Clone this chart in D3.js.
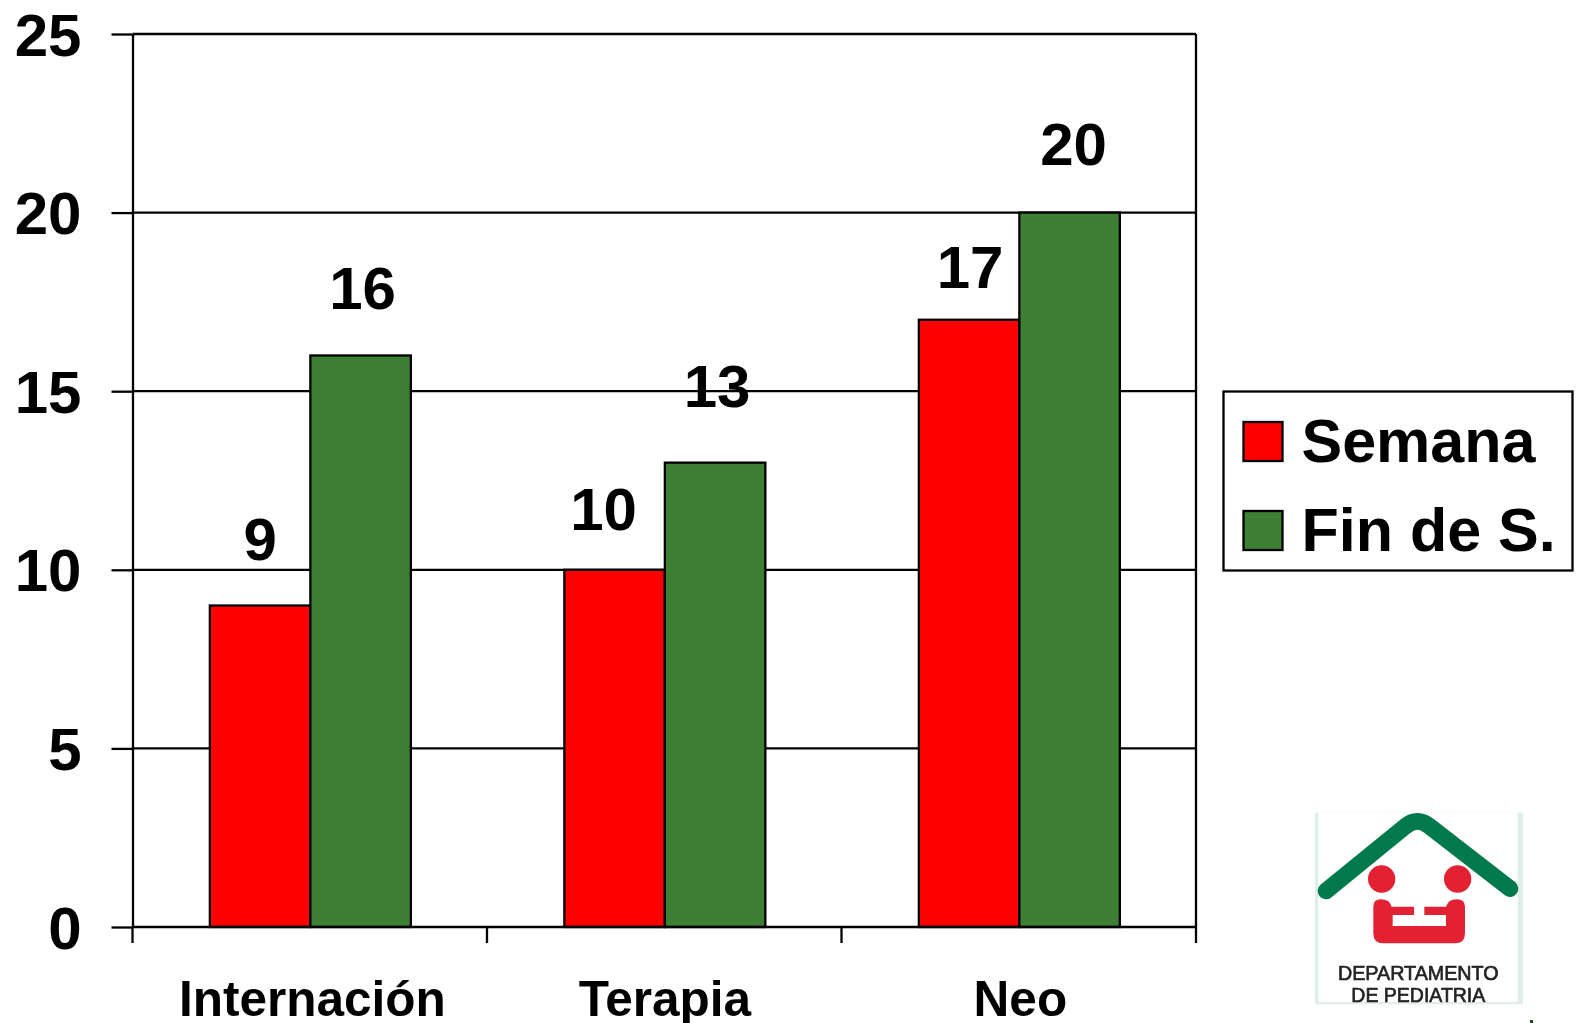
<!DOCTYPE html>
<html lang="es">
<head>
<meta charset="utf-8">
<title>Semana y fin de semana por servicio</title>
<script src="https://cdn.jsdelivr.net/npm/d3@7/dist/d3.min.js"></script>
<style>
  html, body { margin: 0; padding: 0; background: #fff; overflow: hidden; }
  svg { display: block; }
  text { font-family: "Liberation Sans", Arial, sans-serif; font-weight: 700; fill: #000; }
</style>
</head>
<body>
<svg id="chart" width="1579" height="1023"></svg>
<script>
const categories = ["Internación", "Terapia", "Neo"];
const seriesNames = ["Semana", "Fin de S."];
const semana = [9, 10, 17];
const finDeSemana = [16, 13, 20];
const seriesValues = [semana, finDeSemana];
const seriesColors = ["#ff0000", "#3d8033"];
const yTickValues = [0, 5, 10, 15, 20, 25];

// Hand placement of the value labels: [dx, dy] per series and category
const labelNudge = [
  [[0, 0], [-11, 6], [1, 14]],
  [[2, 0], [2, -10], [4, -2]]
];
// Horizontal nudge of the category labels
const categoryNudge = [2, 0, 1];

const plot = { left: 132.5, right: 1196, top: 34, bottom: 927 };
const lineWidth = 2.3;
const svg = d3.select("#chart");

const y = d3.scaleLinear().domain([0, 25]).range([plot.bottom, plot.top]);
const x = d3.scaleBand().domain(categories).range([plot.left + 0.6, plot.right + 0.6])
  .paddingInner(0.433).paddingOuter(0.2165);
const xSeries = d3.scaleBand().domain(d3.range(seriesNames.length)).range([0, x.bandwidth()]);
const catStep = x.step();

// Horizontal gridlines and the plot frame sit behind the bars
svg.append("g").selectAll("line").data(yTickValues.slice(1)).join("line")
  .attr("x1", plot.left).attr("x2", plot.right)
  .attr("y1", d => y(d)).attr("y2", d => y(d))
  .attr("stroke", "#000").attr("stroke-width", lineWidth);
svg.append("line")
  .attr("x1", plot.right).attr("x2", plot.right)
  .attr("y1", plot.top).attr("y2", plot.bottom)
  .attr("stroke", "#000").attr("stroke-width", lineWidth);

// Bars, one group per service
const groups = svg.append("g").selectAll("g").data(categories).join("g")
  .attr("transform", d => `translate(${x(d)},0)`);
groups.selectAll("rect")
  .data((d, i) => seriesValues.map((vals, s) => ({ s, v: vals[i] })))
  .join("rect")
  .attr("x", d => xSeries(d.s))
  .attr("y", d => y(d.v))
  .attr("width", xSeries.bandwidth())
  .attr("height", d => plot.bottom - y(d.v))
  .attr("fill", d => seriesColors[d.s])
  .attr("stroke", "#000").attr("stroke-width", lineWidth);

// Value labels above each bar
groups.selectAll("text")
  .data((d, i) => seriesValues.map((vals, s) => ({ s, i, v: vals[i] })))
  .join("text")
  .attr("x", d => xSeries(d.s) + xSeries.bandwidth() / 2 + labelNudge[d.s][d.i][0])
  .attr("y", d => y(d.v) - 46 + labelNudge[d.s][d.i][1])
  .attr("text-anchor", "middle")
  .attr("font-size", 60)
  .text(d => d.v);

// Value axis
const yAxis = svg.append("g")
  .attr("transform", `translate(${plot.left},0)`)
  .call(d3.axisLeft(y).tickValues(yTickValues).tickSize(21).tickSizeOuter(0).tickPadding(30));
yAxis.selectAll("path.domain").attr("stroke", "#000").attr("stroke-width", lineWidth);
yAxis.selectAll("line").attr("stroke", "#000").attr("stroke-width", lineWidth);
yAxis.selectAll("text").attr("font-size", 60).attr("dy", "0.35em");
yAxis.attr("font-family", null);

// Category axis, with tick marks on the band boundaries
const xAxis = svg.append("g")
  .attr("transform", `translate(0,${plot.bottom})`)
  .call(d3.axisBottom(x).tickSize(0).tickPadding(54));
xAxis.selectAll("path.domain").remove();
xAxis.selectAll("text")
  .attr("font-size", 49.5)
  .attr("dy", "0.71em")
  .attr("dx", (d, i) => categoryNudge[i]);
xAxis.attr("font-family", null);
xAxis.append("line")
  .attr("x1", plot.left).attr("x2", plot.right)
  .attr("stroke", "#000").attr("stroke-width", lineWidth);
xAxis.selectAll("line.boundary").data(d3.range(categories.length + 1)).join("line")
  .attr("class", "boundary")
  .attr("x1", i => plot.left + i * catStep).attr("x2", i => plot.left + i * catStep)
  .attr("y1", 0).attr("y2", 16)
  .attr("stroke", "#000").attr("stroke-width", lineWidth);

// Legend
const legend = svg.append("g");
legend.append("rect")
  .attr("x", 1223.5).attr("y", 391.5).attr("width", 349).attr("height", 179)
  .attr("fill", "#fff").attr("stroke", "#000").attr("stroke-width", lineWidth);
const legendRows = legend.selectAll("g").data(seriesNames).join("g")
  .attr("transform", (d, i) => `translate(0,${i * 89})`);
legendRows.append("rect")
  .attr("x", 1243.5).attr("y", 422).attr("width", 39).attr("height", 39)
  .attr("fill", (d, i) => seriesColors[i]).attr("stroke", "#000").attr("stroke-width", lineWidth);
legendRows.append("text")
  .attr("x", 1301.5).attr("y", 461.5)
  .attr("font-size", 61)
  .text(d => d);

// Department emblem in the lower right corner
const defs = svg.append("defs");
defs.append("filter").attr("id", "soft")
  .append("feGaussianBlur").attr("stdDeviation", 1);
defs.append("clipPath").attr("id", "emblemClip")
  .append("rect").attr("x", 75).attr("y", 68).attr("width", 624).attr("height", 575);

const emblem = svg.append("g")
  .attr("transform", "translate(1290,790) scale(0.3333)")
  .attr("filter", "url(#soft)");
emblem.append("rect")
  .attr("x", 75).attr("y", 68).attr("width", 624).attr("height", 575)
  .attr("fill", "#dfeee8");
emblem.append("rect")
  .attr("x", 85).attr("y", 68).attr("width", 598).attr("height", 568)
  .attr("fill", "#fff");
emblem.append("path")
  .attr("clip-path", "url(#emblemClip)")
  .attr("d", "M108,303 L345,110 Q382,78 420,110 L660,296")
  .attr("fill", "none").attr("stroke", "#067a4e")
  .attr("stroke-width", 50).attr("stroke-linecap", "round").attr("stroke-linejoin", "round");
emblem.selectAll("circle").data([275, 503]).join("circle")
  .attr("cx", d => d).attr("cy", 267).attr("r", 41).attr("fill", "#e22232");
emblem.append("path")
  .attr("fill", "#e22232")
  .attr("d", "M250,350 Q250,328 272,328 Q300,328 305,350 L372,350 L372,375 L308,375 L308,408 L468,408 L468,375 L403,375 L403,350 L468,350 Q475,328 500,328 Q525,328 525,350 L525,430 Q525,460 495,460 L280,460 Q250,460 250,430 Z");
emblem.selectAll("text").data([
    { label: "DEPARTAMENTO", cy: 569, len: 482 },
    { label: "DE PEDIATRIA", cy: 637, len: 402 }
  ]).join("text")
  .attr("x", 385).attr("y", d => d.cy)
  .attr("text-anchor", "middle")
  .attr("font-size", 60)
  .attr("textLength", d => d.len)
  .attr("lengthAdjust", "spacingAndGlyphs")
  .style("font-weight", 400)
  .style("fill", "#222")
  .style("stroke", "#222").style("stroke-width", 2)
  .text(d => d.label);

// Small dark mark at the bottom edge
svg.append("rect")
  .attr("x", 1530).attr("y", 1020).attr("width", 3).attr("height", 3)
  .attr("fill", "#1f4a1f");
</script>
</body>
</html>
